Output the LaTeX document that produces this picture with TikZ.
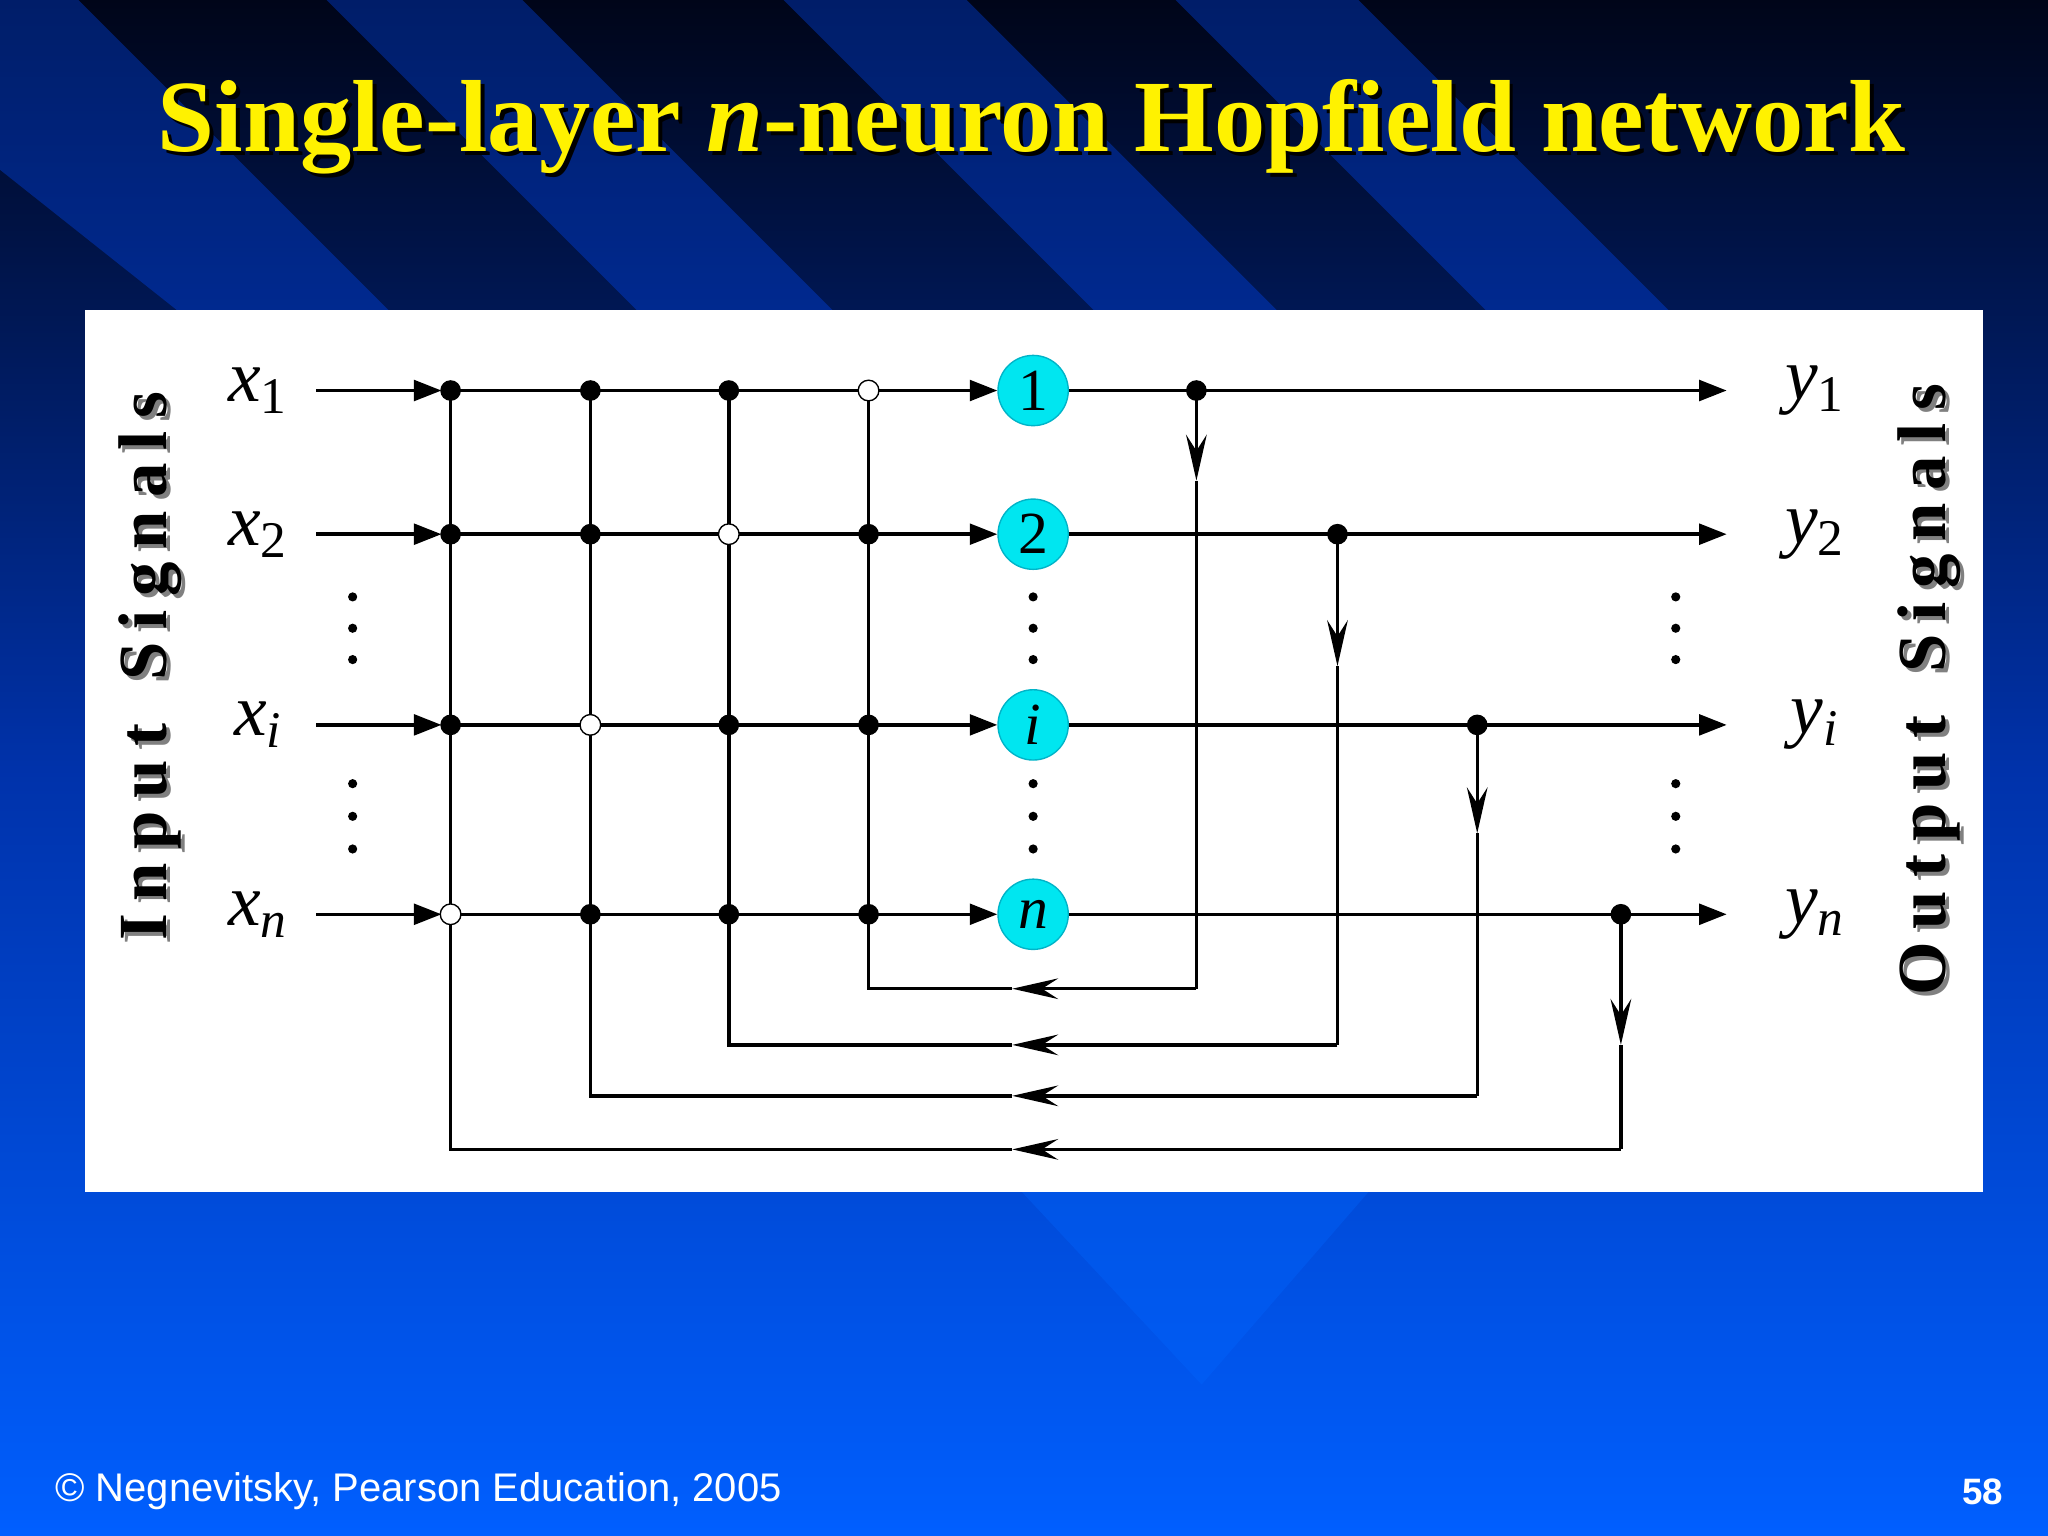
\documentclass[tikz,border=0pt]{standalone}
\usepackage{fontspec}
\setmainfont{Liberation Serif}
\newfontfamily\arialf{Liberation Sans}
\usetikzlibrary{arrows.meta}
\newcommand{\gp}{\hspace{0.19em}}
\begin{document}
\begin{tikzpicture}[x=0.01cm,y=-0.01cm,
  wire/.style={line width=0.75pt},
  tip/.style={-{Triangle[length=6pt,width=4.5pt]}},
  fb/.style={-{Stealth[length=10pt,width=4.5pt,inset=3.5pt]}},
  full/.style={circle,fill=black,inner sep=0pt,minimum size=4.5pt},
  open/.style={circle,draw=black,fill=white,inner sep=0pt,minimum size=4.5pt,line width=0.3pt},
  neuron/.style={circle,fill={rgb,255:red,0;green,230;blue,240},draw={rgb,255:red,0;green,180;blue,200},line width=0.3pt,inner sep=0pt,minimum size=15.3pt,font=\fontsize{13}{15}\selectfont},
  lab/.style={font=\fontsize{16}{18}\selectfont},
  side/.style={rotate=90,font=\bfseries\fontsize{15}{17}\selectfont},
  vdot/.style={circle,fill=black,inner sep=0pt,minimum size=2pt}]
\useasboundingbox (0,0) rectangle (1568,1176);
\shade[top color={rgb,255:red,0;green,5;blue,25}, bottom color={rgb,255:red,0;green,95;blue,255}, middle color={rgb,255:red,0;green,50;blue,170}] (0,0) rectangle (1568,1176);
\begin{scope}[opacity=0.35]
\fill[blue!70!cyan] (0,130) -- (0,0) -- (60,0) -- (420,360) -- (290,360) -- cycle;
\fill[blue!70!cyan] (250,0) -- (400,0) -- (760,360) -- (610,360) -- cycle;
\fill[blue!70!cyan] (600,0) -- (740,0) -- (1100,360) -- (960,360) -- cycle;
\fill[blue!70!cyan] (900,0) -- (1040,0) -- (1400,360) -- (1260,360) -- cycle;
\fill[blue!60!cyan] (780,910) -- (1050,910) -- (920,1060) -- cycle;
\end{scope}
\node[font=\bfseries\fontsize{22.3}{26}\selectfont,text=black] at (793,100) {Single-layer \textit{n}-neuron Hopfield network};
\node[font=\bfseries\fontsize{22.3}{26}\selectfont,text=yellow] (title) at (790,97) {Single-layer \textit{n}-neuron Hopfield network};
\fill[white] (65,237) rectangle (1518,913);
\node[side,text=gray] at (118,513) {I\gp n\gp p\gp u\gp t\gp\ \gp S\gp i\gp g\gp n\gp a\gp l\gp s};
\node[side] (inl) at (115,510) {I\gp n\gp p\gp u\gp t\gp\ \gp S\gp i\gp g\gp n\gp a\gp l\gp s};
\node[side,text=gray] at (1480,531) {O\gp u\gp t\gp p\gp u\gp t\gp\ \gp S\gp i\gp g\gp n\gp a\gp l\gp s};
\node[side] (outl) at (1477,528) {O\gp u\gp t\gp p\gp u\gp t\gp\ \gp S\gp i\gp g\gp n\gp a\gp l\gp s};
\foreach \n/\y/\s in {a/299/1,b/409/2,c/555/\textit{i},d/700/\textit{n}}{
  \node[lab] (x\n) at (198,\y) {\textit{x}\textsubscript{\s}};
  \node[lab] (y\n) at (1390,\y) {\textit{y}\textsubscript{\s}};
  \coordinate (is\n) at (242,\y);
  \coordinate (ie\n) at (338,\y);
  \coordinate (oe\n) at (1322,\y);
}
\node[neuron] (na) at (791,299) {1};
\node[neuron] (nb) at (791,409) {2};
\node[neuron] (nc) at (791,555) {\textit{i}};
\node[neuron] (nd) at (791,700) {\textit{n}};
\foreach \c/\x in {1/345,2/452,3/558,4/665}{
 \foreach \n/\y in {a/299,b/409,c/555,d/700}{\coordinate (j\c\n) at (\x,\y);}}
\foreach \n in {a,b,c,d}{
  \draw[wire,tip] (is\n) -- (ie\n);
  \draw[wire,tip] (ie\n) -- (n\n.west);
  \draw[wire,tip] (n\n.east) -- (oe\n);
}
\foreach \c/\n/\tx/\fy/\ay/\colx in {4/a/916/757/368/665, 3/b/1024/800/510/558, 2/c/1131/839/638/452, 1/d/1241/880/800/345}{
  \coordinate (t\c) at (\tx,\fy);
  \coordinate (tm\c) at (\tx,\ay);
  \coordinate (m\c) at (775,\fy);
  \coordinate (e\c) at (\colx,\fy);
  \draw[wire,fb] (\tx,0|-n\n) -- (tm\c);
  \draw[wire] (tm\c) -- (t\c);
  \draw[wire,fb] (t\c) -- (m\c);
  \draw[wire] (m\c) -- (e\c) -- (j\c a);
  \node[full] at (\tx,0|-n\n) {};
}
\foreach \c in {1,2,3,4}{\foreach \n in {a,b,c,d}{\node[full] at (j\c\n) {};}}
\node[open] at (j4a) {};
\node[open] at (j3b) {};
\node[open] at (j2c) {};
\node[open] at (j1d) {};
\foreach \x in {270,791,1283}{\foreach \y in {457,481,505,600,625,650}{\node[vdot] at (\x,\y) {};}}
\node[anchor=west,text=white,font=\arialf\fontsize{8.7}{11}\selectfont] (foot) at (30,1142) {© Negnevitsky, Pearson Education, 2005};
\node[text=white,font=\arialf\bfseries\fontsize{8}{10}\selectfont] (pg) at (1518,1142) {58};
\end{tikzpicture}
\end{document}
